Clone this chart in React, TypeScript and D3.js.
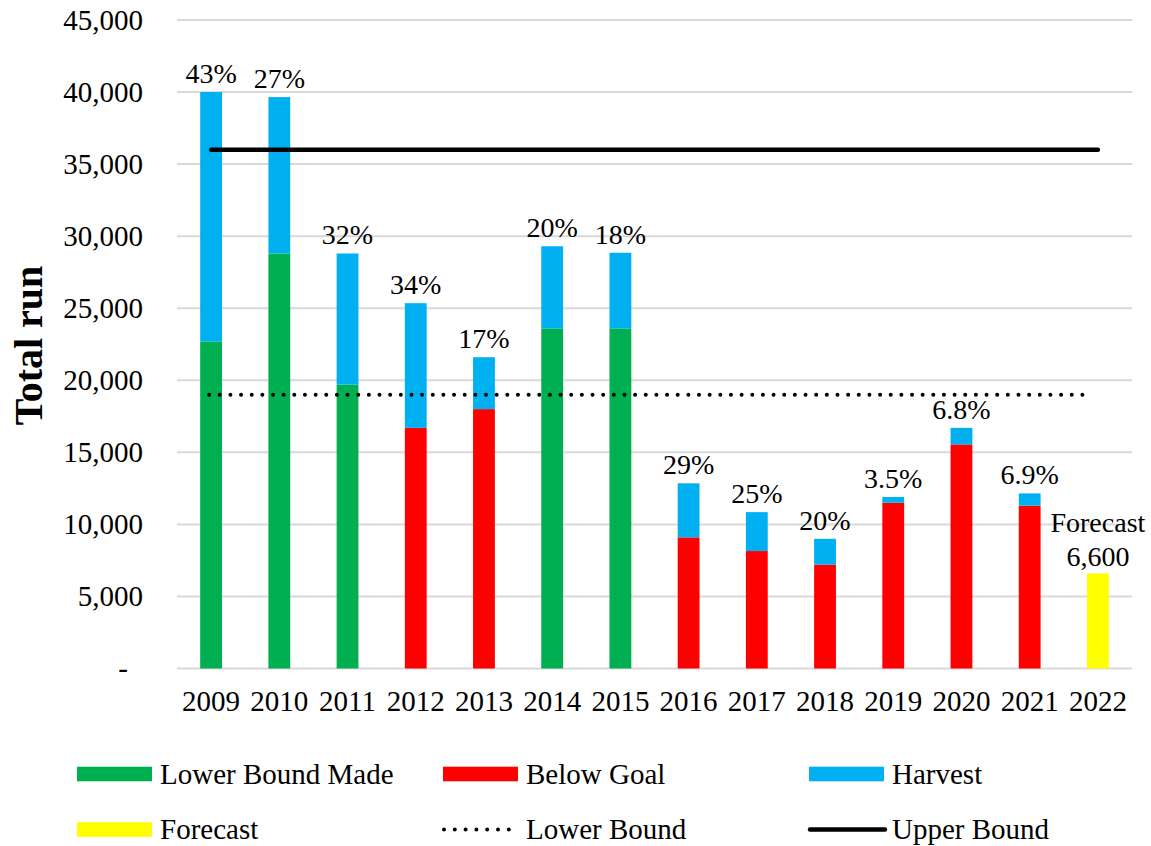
import * as d3 from "d3";

// Run data
const years = ["2009", "2010", "2011", "2012", "2013", "2014", "2015", "2016", "2017", "2018", "2019", "2020", "2021", "2022"];
const escapement = [22700, 28800, 19700, 16700, 18000, 23600, 23600, 9100, 8150, 7200, 11500, 15550, 11300, 6600];
const harvest = [17300, 10850, 9100, 8650, 3600, 5700, 5250, 3750, 2700, 1800, 400, 1150, 850, 0];
const status = ["met", "met", "met", "below", "below", "met", "met", "below", "below", "below", "below", "below", "below", "forecast"];
const harvestRate = ["43%", "27%", "32%", "34%", "17%", "20%", "18%", "29%", "25%", "20%", "3.5%", "6.8%", "6.9%", ""];
const yTicks = [0, 5000, 10000, 15000, 20000, 25000, 30000, 35000, 40000, 45000];
const lowerBound = 19000;
const upperBound = 36000;

const colors: Record<string, string> = {
  met: "#00B050",
  below: "#FF0000",
  harvest: "#00B0F0",
  forecast: "#FFFF00",
};

const W = 1151;
const H = 846;
const font = "Liberation Serif, Tinos, Times New Roman, DejaVu Serif, serif";

export default function App() {
  const x = d3
    .scaleBand()
    .domain(years)
    .range([177, 1132])
    .paddingInner(0.68)
    .paddingOuter(0.34);

  const y = d3.scaleLinear().domain([0, 45000]).range([668.5, 20]);
  const fmt = d3.format(",");
  const cx = (yr: string) => (x(yr) as number) + x.bandwidth() / 2;

  const first = cx(years[0]);
  const last = cx(years[years.length - 1]);

  const legend = [
    { label: "Lower Bound Made", kind: "rect", color: colors.met, x: 77, y: 774 },
    { label: "Below Goal", kind: "rect", color: colors.below, x: 443, y: 774 },
    { label: "Harvest", kind: "rect", color: colors.harvest, x: 809, y: 774 },
    { label: "Forecast", kind: "rect", color: colors.forecast, x: 77, y: 829.5 },
    { label: "Lower Bound", kind: "dot", color: "#000", x: 443, y: 829.5 },
    { label: "Upper Bound", kind: "line", color: "#000", x: 809, y: 829.5 },
  ];

  const txt = { fontFamily: font };

  return (
    <svg
      width={W}
      height={H}
      style={{ position: "absolute", left: 0, top: 0, background: "#fff", fontFamily: font }}
    >
      {/* gridlines */}
      {yTicks.map((t) => (
        <line key={t} x1={177} x2={1132} y1={y(t)} y2={y(t)} stroke="#d9d9d9" strokeWidth={2} />
      ))}

      {/* y tick labels */}
      {yTicks.map((t) => (
        <text
          key={"l" + t}
          x={t === 0 ? 128 : 143}
          y={y(t)}
          dy="0.34em"
          textAnchor="end"
          fontSize={29}
          fill="#000"
          style={txt}
        >
          {t === 0 ? "-" : fmt(t)}
        </text>
      ))}

      {/* y axis title */}
      <text
        transform={`translate(42,345.5) rotate(-90)`}
        textAnchor="middle"
        fontSize={40}
        fontWeight="bold"
        style={txt}
      >
        Total run
      </text>

      {/* bars */}
      {years.map((yr, i) => {
        const base = escapement[i];
        const top = base + harvest[i];
        return (
          <g key={yr}>
            <rect
              x={x(yr)}
              y={y(base)}
              width={x.bandwidth()}
              height={y(0) - y(base)}
              fill={colors[status[i]]}
            />
            {harvest[i] > 0 && (
              <rect
                x={x(yr)}
                y={y(top)}
                width={x.bandwidth()}
                height={y(base) - y(top)}
                fill={colors.harvest}
              />
            )}
            {harvestRate[i] && (
              <text x={cx(yr)} y={y(top) - 9} textAnchor="middle" fontSize={28} style={txt}>
                {harvestRate[i]}
              </text>
            )}
          </g>
        );
      })}

      {/* forecast label */}
      <text x={last} y={y(escapement[13]) - 41} textAnchor="middle" fontSize={28} style={txt}>
        Forecast
      </text>
      <text x={last} y={y(escapement[13]) - 7} textAnchor="middle" fontSize={28} style={txt}>
        {fmt(escapement[13])}
      </text>

      {/* bound lines */}
      <line
        x1={first}
        x2={last}
        y1={y(upperBound)}
        y2={y(upperBound)}
        stroke="#000"
        strokeWidth={4.5}
        strokeLinecap="round"
      />
      <line
        x1={first - 2}
        x2={last - 10}
        y1={y(lowerBound)}
        y2={y(lowerBound)}
        stroke="#000"
        strokeWidth={4}
        strokeLinecap="round"
        strokeDasharray="0 10.65"
      />

      {/* x labels */}
      {years.map((yr) => (
        <text key={"x" + yr} x={cx(yr)} y={711} textAnchor="middle" fontSize={29} style={txt}>
          {yr}
        </text>
      ))}

      {/* legend */}
      {legend.map((l) => (
        <g key={l.label}>
          {l.kind === "rect" && (
            <rect x={l.x} y={l.y - 7.3} width={75} height={14.6} fill={l.color} />
          )}
          {l.kind === "dot" && (
            <line
              x1={l.x + 1}
              x2={l.x + 68}
              y1={l.y}
              y2={l.y}
              stroke="#000"
              strokeWidth={4}
              strokeLinecap="round"
              strokeDasharray="0 10.8"
            />
          )}
          {l.kind === "line" && (
            <line
              x1={l.x + 1}
              x2={l.x + 76}
              y1={l.y}
              y2={l.y}
              stroke="#000"
              strokeWidth={4.5}
              strokeLinecap="round"
            />
          )}
          <text x={l.x + 83} y={l.y + 9.5} fontSize={29} style={txt}>
            {l.label}
          </text>
        </g>
      ))}
    </svg>
  );
}
